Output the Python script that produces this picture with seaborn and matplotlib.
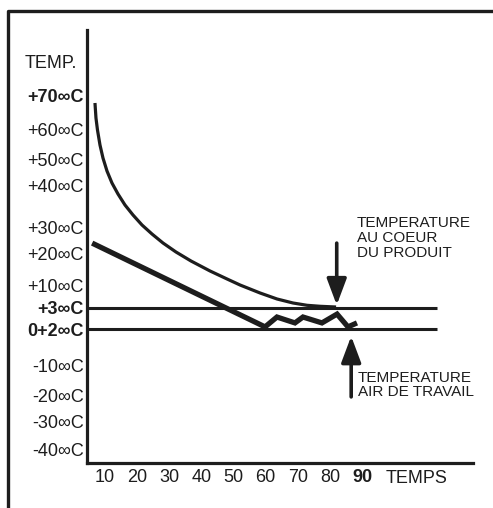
import numpy as np
import matplotlib
matplotlib.use('Agg')
import matplotlib.pyplot as plt
import seaborn as sns
from matplotlib.lines import Line2D

# graduations de l'axe des temperatures
temp_ticks = [70, 60, 50, 40, 30, 20, 10, 3, 2, -10, -20, -30, -40]
temp_labels = ['+70∞C', '+60∞C', '+50∞C', '+40∞C', '+30∞C', '+20∞C', '+10∞C',
               '+3∞C', '0+2∞C', '-10∞C', '-20∞C', '-30∞C', '-40∞C']
bold_temps = ['+70∞C', '+3∞C', '0+2∞C']
time_ticks = [10, 20, 30, 40, 50, 60, 70, 80, 90]
time_labels = ['10', '20', '30', '40', '50', '60', '70', '80', '90']

# temperature au coeur du produit
produit_t = [6.88, 7.19, 7.66, 8.44, 9.37, 10.62, 12.17, 14.04, 16.22, 18.71,
             21.51, 24.62, 28.04, 32.09, 36.76, 42.68, 47.97, 52.02, 58.24,
             63.53, 68.51, 72.87, 76.92, 81.9]
produit_temp = [67.65, 63.24, 59.68, 54.84, 50.65, 45.6, 40.8, 37.86, 35.24, 32.86,
                30.48, 27.31, 23.85, 20.38, 17.5, 14.38, 11.88, 10.0, 7.57,
                5.74, 4.52, 3.82, 3.52, 3.3]

# temperature air de travail
air_t = [6.0, 59.8, 63.5, 69.1, 71.6, 77.5, 82.2, 85.6, 88.4]
air_temp = [23.8, 2.1, 2.57, 2.29, 2.57, 2.29, 2.71, 2.1, 2.29]

# seuils
seuils = [3, 2]

# the temperature axis is not evenly spaced: height of each row above the x axis
row_height = [368, 334, 303, 278, 236, 210, 178, 155, 134, 98, 68, 41, 14]
scale_t = np.array([-70] + temp_ticks[::-1] + [110], dtype=float)
scale_h = np.array([-67] + row_height[::-1] + [504], dtype=float)


def forward(t):
    return np.interp(t, scale_t, scale_h)


def inverse(h):
    return np.interp(h, scale_h, scale_t)


sns.set_style('white')
plt.rcParams['font.family'] = ['Liberation Sans', 'DejaVu Sans']
ink = '#1d1d1d'

fig = plt.figure(figsize=(4.93, 5.08), dpi=100)
ax = fig.add_axes([87 / 493, 45 / 508, 386 / 493, 433 / 508])
ax.set_yscale('function', functions=(forward, inverse))

sns.lineplot(x=produit_t, y=produit_temp, ax=ax, color=ink, lw=2.3,
             solid_capstyle='butt', solid_joinstyle='round')
sns.lineplot(x=air_t, y=air_temp, ax=ax, color=ink, lw=3.8,
             solid_capstyle='butt', solid_joinstyle='miter')
ax.hlines(seuils, 4.4, 113.3, color=ink, lw=2.2)

ax.set_xlim(4.4, 124.5)
ax.set_ylim(inverse(0), inverse(433))
ax.set_yticks(temp_ticks, labels=temp_labels)
ax.set_xticks(time_ticks, labels=time_labels)
ax.tick_params(axis='both', length=0, labelsize=13, colors=ink)
ax.tick_params(axis='y', pad=2.5)
ax.tick_params(axis='x', pad=4)
for lab in ax.get_yticklabels():
    if lab.get_text() in bold_temps:
        lab.set_fontweight('bold')
ax.get_xticklabels()[-1].set_fontweight('bold')

sns.despine(ax=ax)
for side in ['left', 'bottom']:
    ax.spines[side].set_linewidth(2.3)
    ax.spines[side].set_color(ink)

ax.text(106.8, -0.035, 'TEMPS', transform=ax.get_xaxis_transform(),
        ha='center', va='center', fontsize=13, color=ink)
fig.text(25 / 493, 1 - 63 / 508, 'TEMP.', ha='left', va='center',
         fontsize=13, color=ink)

# fleches et legendes
arrow = dict(arrowstyle='-|>,head_length=1.6,head_width=0.6', lw=2.6,
             color=ink, shrinkA=0, shrinkB=0, mutation_scale=10)
ax.annotate('', xy=(82.1, 3.9), xytext=(82.1, 23.8), arrowprops=arrow)
ax.annotate('', xy=(86.6, -0.4), xytext=(86.6, -20.7), arrowprops=arrow)
ax.text(88.4, 25.8, 'TEMPERATURE\nAU COEUR\nDU PRODUIT', ha='left', va='center',
        fontsize=11, color=ink, linespacing=1.1)
ax.text(88.7, -16.7, 'TEMPERATURE\nAIR DE TRAVAIL', ha='left', va='center',
        fontsize=11, color=ink, linespacing=0.95)

# cadre exterieur
fig.add_artist(Line2D([8 / 493, 8 / 493, 1], [0, 1 - 11 / 508, 1 - 11 / 508],
                      transform=fig.transFigure, color=ink, lw=2.4))

fig.savefig('out.png', dpi=100)
